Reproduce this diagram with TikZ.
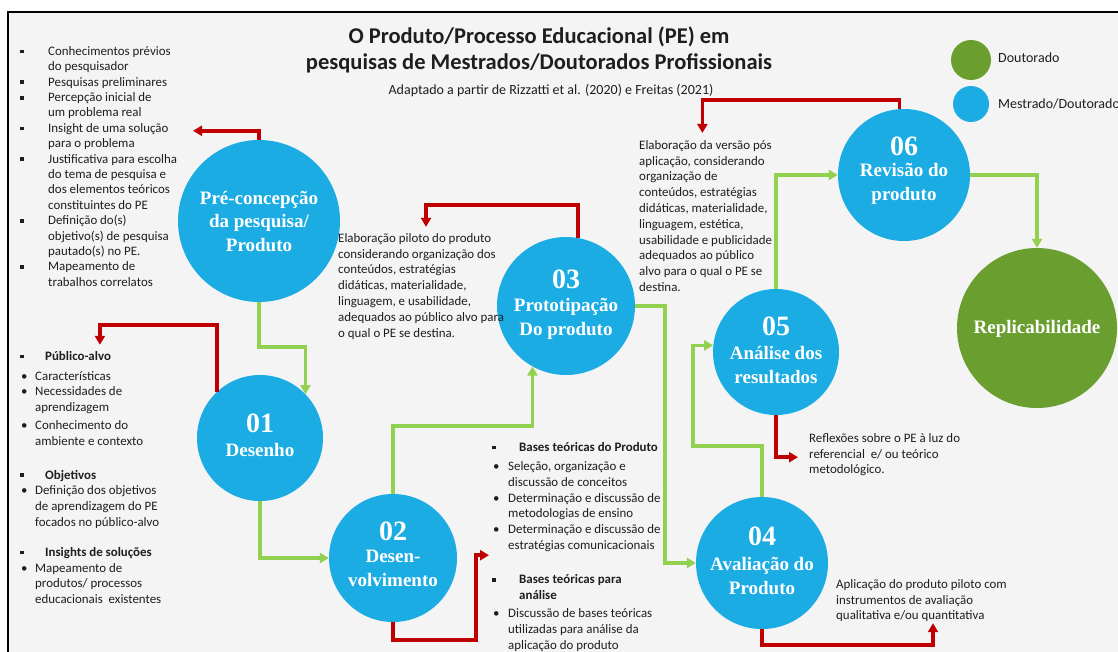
\documentclass[tikz,border=0pt]{standalone}
\usepackage{fontspec}
\setmainfont{Liberation Serif}
\newfontfamily\calib{Carlito}
\usetikzlibrary{arrows.meta}
\definecolor{cblue}{HTML}{1CACE4}
\definecolor{dgreen}{HTML}{6A9E2F}
\definecolor{lgreen}{HTML}{92D050}
\definecolor{dred}{HTML}{C00000}
\definecolor{bgc}{HTML}{F4F4F4}
\definecolor{txt}{HTML}{1E1E1E}
\newcommand\sqb[1]{\makebox[#1][l]{\hspace*{2pt}\raisebox{1.8pt}{\rule{3.8pt}{3.8pt}}}}
\newcommand\rb[1]{\makebox[#1][l]{\hspace*{3pt}\textbullet}}
\newcommand\fst{\rule{0pt}{9.5pt}}
\begin{document}
\begin{tikzpicture}[x=1pt,y=-1pt,
  circ/.style={circle,fill=cblue,draw=none,inner sep=0pt},
  gcon/.style={draw=lgreen,line width=3.5pt,-{Triangle[length=9pt,width=10pt]}},
  rcon/.style={draw=dred,line width=3.5pt,-{Triangle[length=9pt,width=10pt]}},
  ctext/.style={text=white,font=\bfseries\fontsize{19}{23.5}\selectfont,align=center,inner sep=0pt},
  cnum/.style={text=white,font=\bfseries\fontsize{28}{28}\selectfont,inner sep=0pt,anchor=base},
  body/.style={font=\calib\fontsize{12.9}{15.4}\selectfont,text=txt,align=left,anchor=north west,inner sep=0pt},
  bodyb/.style={body,font=\calib\fontsize{12.9}{15.8}\selectfont},
  leg/.style={font=\calib\fontsize{14}{15}\selectfont,text=txt,anchor=west,inner sep=0pt}
]
\useasboundingbox (0,0) rectangle (1118,651);
\fill[white] (0,0) rectangle (1118,651);
\fill[bgc] (8,12) rectangle (1130,660);
\draw[line width=2.5pt] (8,660) -- (8,12) -- (1130,12);

% title
\node[font=\calib\bfseries\fontsize{22.5}{26}\selectfont,text=txt,align=center,inner sep=0pt] (title) at (539,50)
  {O Produto/Processo Educacional (PE) em\\pesquisas de Mestrados/Doutorados Profissionais};
\node[font=\calib\fontsize{14}{15}\selectfont,text=txt,inner sep=0pt] (sub) at (551,91)
  {Adaptado a partir de Rizzatti et al. (2020) e Freitas (2021)};

% legend
\node[circle,fill=dgreen,minimum size=40pt,inner sep=0pt] (lg) at (971,60) {};
\node[circ,minimum size=36pt] (lb) at (971,104) {};
\node[leg] (lgt) at (998,58) {Doutorado};
\node[leg] (lbt) at (998,104) {Mestrado/Doutorado};

% circles
\node[circ,minimum size=162pt] (pre) at (259,221) {};
\node[circ,minimum size=126pt] (c01) at (260,438) {};
\node[circ,minimum size=128pt] (c02) at (393,558) {};
\node[circ,minimum size=138pt] (c03) at (566,306) {};
\node[circ,minimum size=126pt] (c05) at (776,352) {};
\node[circ,minimum size=132pt] (c04) at (762,563) {};
\node[circ,minimum size=132pt] (c06) at (904,175) {};
\node[circle,fill=dgreen,minimum size=160pt,inner sep=0pt] (rep) at (1037,328) {};

% circle texts
\node[ctext] (preT) at (259,221) {Pré-concepção\\da pesquisa/\\Produto};
\node[cnum] (n01) at (260,432.5) {01};
\node[ctext] (l01) at (260,450) {Desenho};
\node[cnum] (n02) at (393,540) {02};
\node[ctext] (l02) at (393,568.5) {Desen-\\volvimento};
\node[cnum] (n03) at (566,288) {03};
\node[ctext] (l03) at (566,319) {Prototipação\\Do produto};
\node[cnum] (n05) at (776,335) {05};
\node[ctext] (l05) at (776,365) {Análise dos\\resultados};
\node[cnum] (n04) at (762,545) {04};
\node[ctext] (l04) at (762,576) {Avaliação do\\Produto};
\node[cnum] (n06) at (904,155) {06};
\node[ctext] (l06) at (904,184) {Revisão do\\produto};
\node[ctext] (lrep) at (1037,329) {Replicabilidade};

% text blocks
\node[body] (tpre) at (18,45.5) {\sqb{30pt}\fst Conhecimentos prévios\\
\hspace*{30pt}do pesquisador\\
\sqb{30pt}Pesquisas preliminares\\
\sqb{30pt}Percepção inicial de\\
\hspace*{30pt}um problema real\\
\sqb{30pt}Insight de uma solução\\
\hspace*{30pt}para o problema\\
\sqb{30pt}Justificativa para escolha\\
\hspace*{30pt}do tema de pesquisa e\\
\hspace*{30pt}dos elementos teóricos\\
\hspace*{30pt}constituintes do PE\\
\sqb{30pt}Definição do(s)\\
\hspace*{30pt}objetivo(s) de pesquisa\\
\hspace*{30pt}pautado(s) no PE.\\
\sqb{30pt}Mapeamento de\\
\hspace*{30pt}trabalhos correlatos};

\node[bodyb] (tdes) at (18,350.5) {\sqb{27pt}\fst\textbf{Público-alvo}\\[4pt]
\rb{17pt}Características\\
\rb{17pt}Necessidades de\\
\hspace*{17pt}aprendizagem\\[2pt]
\rb{17pt}Conhecimento do\\
\hspace*{17pt}ambiente e contexto\\[18pt]
\sqb{27pt}\textbf{Objetivos}\\
\rb{17pt}Definição dos objetivos\\
\hspace*{17pt}de aprendizagem do PE\\
\hspace*{17pt}focados no público-alvo\\[14pt]
\sqb{27pt}\textbf{Insights de soluções}\\
\rb{17pt}Mapeamento de\\
\hspace*{17pt}produtos/ processos\\
\hspace*{17pt}educacionais\ \ existentes};

\node[bodyb] (tproto) at (338,232.5) {\fst Elaboração piloto do produto\\
considerando organização dos\\
conteúdos, estratégias\\
didáticas, materialidade,\\
linguagem, e usabilidade,\\
adequados ao público alvo para\\
o qual o PE se destina.};

\node[bodyb] (trev) at (639,139.5) {\fst Elaboração da versão pós\\
aplicação, considerando\\
organização de\\
conteúdos, estratégias\\
didáticas, materialidade,\\
linguagem, estética,\\
usabilidade e publicidade\\
adequados ao público\\
alvo para o qual o PE se\\
destina.};

\node[bodyb] (tbase) at (490,441.5) {\sqb{29pt}\fst\textbf{Bases teóricas do Produto}\\[3.5pt]
\rb{18pt}Seleção, organização e\\
\hspace*{18pt}discussão de conceitos\\
\rb{18pt}Determinação e discussão de\\
\hspace*{18pt}metodologias de ensino\\
\rb{18pt}Determinação e discussão de\\
\hspace*{18pt}estratégias comunicacionais\\[18.5pt]
\sqb{29pt}\textbf{Bases teóricas para}\\
\hspace*{29pt}\textbf{análise}\\[2.5pt]
\rb{18pt}Discussão de bases teóricas\\
\hspace*{18pt}utilizadas para análise da\\
\hspace*{18pt}aplicação do produto};

\node[bodyb] (trefl) at (809,432.5) {\fst Reflexões sobre o PE à luz do\\
referencial\ \ e/ ou teórico\\
metodológico.};

\node[bodyb] (tapl) at (836,578.5) {\fst Aplicação do produto piloto com\\
instrumentos de avaliação\\
qualitativa e/ou quantitativa};

% green connectors
\draw[gcon] (pre.south) -- ++(0,45) -| (c01.44.4);
\draw[gcon] (c01.south) |- (c02.west);
\draw[gcon] (c02.north) -- ++(0,-68) -| (c03.241.5);
\draw[gcon] (c03.east) -- ++(30,0) |- (c04.west);
\draw[gcon] (c04.north) -- ++(0,-51) -- ++(-69,0) |- (c05.174.5);
\draw[gcon] (c05.north) |- (c06.west);
\draw[gcon] (c06.east) -| (rep.north);

% red connectors
\draw[rcon] (pre.north) -- ++(0,-9) -- ++(-66,0);
\draw[rcon] (c01.133) -- ++(0,-67) -- ++(-117,0) -- ++(0,20);
\draw[rcon] (c03.80) -- ++(0,-33) -- ++(-152,0) -- ++(0,22);
\draw[rcon] (c02.south) -- ++(0,18) -- ++(83,0) -- ++(0,-85) -- ++(13,0);
\draw[rcon] (c06.94.3) -- ++(0,-9) -- ++(-197,0) -- ++(0,33);
\draw[rcon] (c05.south) -- ++(0,42) -- ++(22,0);
\draw[rcon] (c04.south) -- ++(0,16) -- ++(171,0) -- ++(0,-22);
\end{tikzpicture}
\end{document}
